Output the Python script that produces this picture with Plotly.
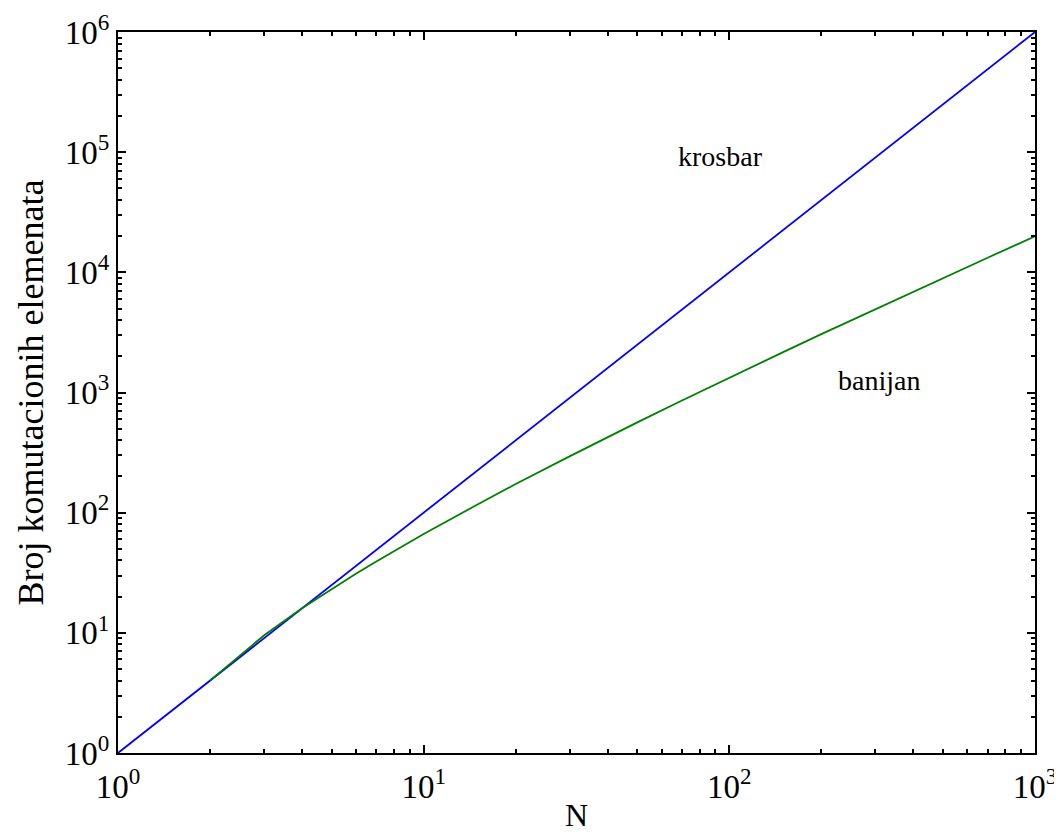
import plotly.graph_objects as go

N = [1, 2, 3, 4, 5, 6, 7, 8, 9, 10, 15, 20, 30, 40, 50, 70, 100, 150, 200, 300, 500, 700, 1000]
krosbar = [1, 4, 9, 16, 25, 36, 49, 64, 81, 100, 225, 400, 900, 1600, 2500, 4900, 10000,
           22500, 40000, 90000, 250000, 490000, 1000000]
N_ban = [2, 3, 4, 5, 6, 7, 8, 9, 10, 15, 20, 30, 40, 50, 70, 100, 150, 200, 300, 500, 700, 1000]
banijan = [4, 9.5, 16, 23.2, 31, 39.3, 48, 57, 66.4, 117, 173, 294, 426, 564, 858, 1329,
           2168, 3058, 4938, 8966, 13234, 19932]

x_tickvals = [1, 10, 100, 1000]
x_ticktext = ["10<sup>0</sup>", "10<sup>1</sup>", "10<sup>2</sup>", "10<sup>3</sup>"]
y_tickvals = [1, 10, 100, 1000, 10000, 100000, 1000000]
y_ticktext = ["10<sup>%d</sup>" % i for i in range(7)]

minor_x = [m * 10 ** e for e in range(3) for m in range(2, 10)]
minor_y = [m * 10 ** e for e in range(6) for m in range(2, 10)]

fig = go.Figure()
fig.add_trace(go.Scatter(x=N, y=krosbar, mode="lines", line=dict(color="rgb(0,0,255)", width=1.8),
                         name="krosbar", showlegend=False))
fig.add_trace(go.Scatter(x=N_ban, y=banijan, mode="lines", line=dict(color="rgb(0,128,0)", width=1.8),
                         name="banijan", showlegend=False))

font = "Liberation Serif, Times New Roman, serif"
fig.add_annotation(x=1.97, y=4.96, xref="x", yref="y", text="krosbar", showarrow=False,
                   font=dict(family=font, size=28, color="black"))
fig.add_annotation(x=2.49, y=3.10, xref="x", yref="y", text="banijan", showarrow=False,
                   font=dict(family=font, size=28, color="black"))

axis_common = dict(showgrid=False, zeroline=False, showline=True, linecolor="black", linewidth=2,
                   mirror="allticks", ticks="inside", ticklen=8, tickwidth=1.5, tickcolor="black",
                   automargin=False,
                   tickfont=dict(family=font, size=33, color="black"))

fig.update_xaxes(type="log", range=[0, 3], tickmode="array", tickvals=x_tickvals, ticktext=x_ticktext,
                 minor=dict(tickmode="array", tickvals=minor_x, ticks="inside", ticklen=4,
                            tickcolor="black", tickwidth=1.5, showgrid=False),
                 title=dict(text="N", font=dict(family=font, size=32, color="black"), standoff=0),
                 ticklabelstandoff=3,
                 **axis_common)
fig.update_yaxes(type="log", range=[0, 6], tickmode="array", tickvals=y_tickvals, ticktext=y_ticktext,
                 minor=dict(tickmode="array", tickvals=minor_y, ticks="inside", ticklen=4,
                            tickcolor="black", tickwidth=1.5, showgrid=False),
                 title=dict(text="Broj komutacionih elemenata", font=dict(family=font, size=36, color="black"),
                            standoff=10),
                 **axis_common)

fig.update_layout(width=1062, height=832, margin=dict(l=110, r=35, t=24, b=87),
                  plot_bgcolor="white", paper_bgcolor="white", font=dict(family=font))

fig.write_html("out.html")
